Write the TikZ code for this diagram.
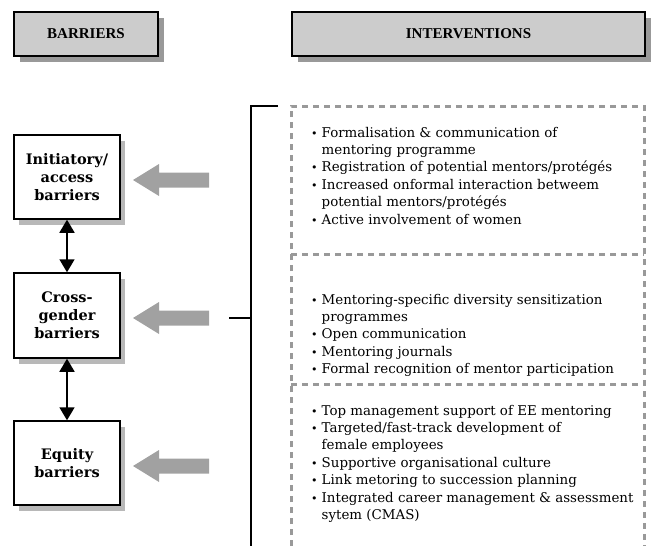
\documentclass[tikz,border=0pt]{standalone}
\usepackage{fontspec}
\setmainfont{DejaVu Serif}
\newfontfamily\headfont{Liberation Serif}
\usetikzlibrary{shadows,arrows.meta}
\definecolor{hdrfill}{gray}{0.8}
\definecolor{hdrshadow}{gray}{0.6}
\definecolor{boxshadow}{gray}{0.72}
\definecolor{arrowgray}{gray}{0.63}
\definecolor{dashgray}{gray}{0.6}
\newcommand{\bul}{{\fontsize{11}{11}\selectfont\textbullet}}
\begin{document}
\begin{tikzpicture}[x=1pt,y=-1pt,
  header/.style={draw=black, line width=1.5pt, fill=hdrfill, minimum height=44pt, inner sep=0pt,
    font=\headfont\fontsize{15}{18}\selectfont\bfseries,
    drop shadow={shadow xshift=6pt, shadow yshift=-6pt, fill=hdrshadow, opacity=1}},
  barrier/.style={draw=black, line width=1.5pt, fill=white, minimum width=106pt, minimum height=84pt,
    inner sep=0pt, align=center, font=\bfseries\fontsize{14.5}{18}\selectfont,
    drop shadow={shadow xshift=5pt, shadow yshift=-6pt, fill=boxshadow, opacity=1}},
  link/.style={line width=1.8pt, {Triangle[width=15pt,length=13pt]}-{Triangle[width=15pt,length=13pt]}},
  bracket/.style={line width=2pt},
  frame/.style={dashgray, line width=3pt, dash pattern=on 6pt off 5pt},
  items/.style={anchor=north west, inner sep=0pt, align=left, font=\fontsize{13.4}{17.4}\selectfont},
  grayarrow/.style={fill=arrowgray}
]
\useasboundingbox (0,0) rectangle (653,546);

% headers
\node[header, minimum width=144pt] (hbar) at (86,34) {BARRIERS};
\node[header, minimum width=353pt] (hint) at (468.5,34) {INTERVENTIONS};

% barrier boxes
\node[barrier] (b1) at (67,177) {Initiatory/\\access\\barriers};
\node[barrier, minimum height=85pt] (b2) at (67,315.5) {Cross-\\gender\\barriers};
\node[barrier] (b3) at (67,463) {Equity\\barriers};

\draw[link] (b1.south) -- (b2.north);
\draw[link] (b2.south) -- (b3.north);

% gray arrows
\foreach \y in {180,318,466}{
  \fill[grayarrow] (133,\y) -- (159,\y-16) -- (159,\y-7.5) -- (209,\y-7.5) -- (209,\y+7.5) -- (159,\y+7.5) -- (159,\y+16) -- cycle;
}

% bracket
\coordinate (brtop) at (278,106);
\coordinate (brcorner) at (251,106);
\coordinate (brbot) at (251,546);
\coordinate (stubL) at (229,318);
\coordinate (stubR) at (251,318);
\draw[bracket] (brtop) -- (brcorner) -- (brbot);
\draw[bracket] (stubL) -- (stubR);

% dashed frame
\coordinate (fTL) at (291,106);
\coordinate (fTR) at (644,106);
\coordinate (fBL) at (291,546);
\coordinate (fBR) at (644,546);
\draw[frame] (fBL) -- (fTL) -- (fTR) -- (fBR);
\draw[frame] (291,254) -- (644,254);
\draw[frame] (291,384) -- (644,384);

% intervention lists
\node[items] (i1) at (311,124.8) {\begin{tabular}{@{}l@{\hspace{4pt}}l@{}}
\bul & Formalisation \& communication of\\
 & mentoring programme\\
\bul & Registration of potential mentors/protégés\\
\bul & Increased onformal interaction betweem\\
 & potential mentors/protégés\\
\bul & Active involvement of women
\end{tabular}};

\node[items] (i2) at (311,291.8) {\begin{tabular}{@{}l@{\hspace{4pt}}l@{}}
\bul & Mentoring-specific diversity sensitization\\
 & programmes\\
\bul & Open communication\\
\bul & Mentoring journals\\
\bul & Formal recognition of mentor participation
\end{tabular}};

\node[items] (i3) at (311,402.8) {\begin{tabular}{@{}l@{\hspace{4pt}}l@{}}
\bul & Top management support of EE mentoring\\
\bul & Targeted/fast-track development of\\
 & female employees\\
\bul & Supportive organisational culture\\
\bul & Link metoring to succession planning\\
\bul & Integrated career management \& assessment\\
 & sytem (CMAS)
\end{tabular}};
\end{tikzpicture}
\end{document}
